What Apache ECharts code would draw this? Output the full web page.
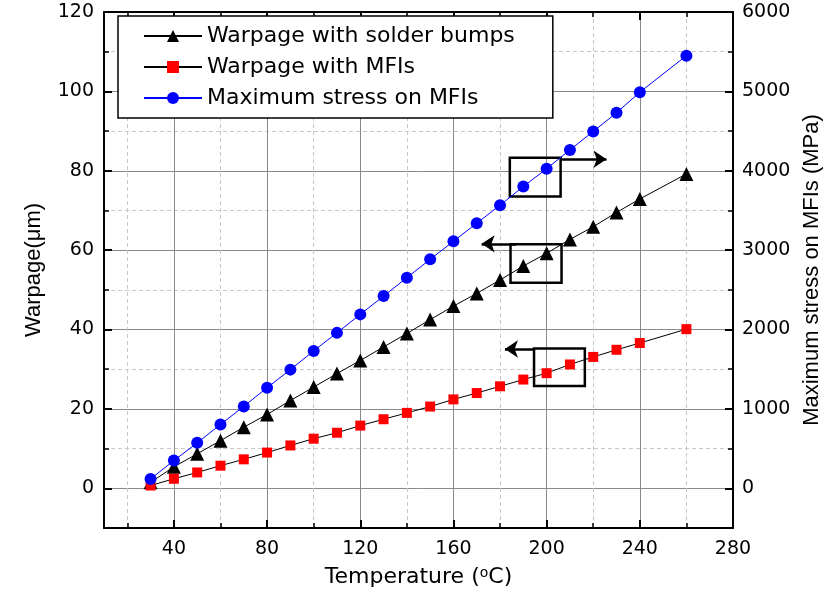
<!DOCTYPE html>
<html>
<head>
<meta charset="utf-8">
<script src="https://cdn.jsdelivr.net/npm/echarts@6/dist/echarts.min.js"></script>
<style>html,body{margin:0;padding:0;background:#fff;}#chart{width:827px;height:598px;}</style>
</head>
<body>
<div id="chart"></div>
<script>
// ---- data ----
const temps = [30,40,50,60,70,80,90,100,110,120,130,140,150,160,170,180,190,200,210,220,230,240,260];
const warpSolder = [1.5,5.4,8.7,12.0,15.4,18.6,22.1,25.5,28.9,32.2,35.6,39.0,42.5,45.9,49.1,52.5,56.0,59.2,62.7,65.9,69.5,72.9,79.2];
const warpMFI = [0.7,2.4,4.0,5.7,7.3,9.0,10.8,12.5,14.0,15.8,17.4,19.0,20.6,22.4,24.0,25.7,27.4,29.0,31.2,33.1,34.9,36.6,40.1];
const stressMFI = [118,349,573,804,1032,1267,1495,1731,1958,2191,2421,2653,2884,3112,3339,3566,3802,4026,4263,4496,4730,4990,5450];
const seriesNames = ['Warpage with solder bumps','Warpage with MFIs','Maximum stress on MFIs'];
const xMajor = [40,80,120,160,200,240,280];
const xMinor = [20,60,100,140,180,220,260];
const yMajor = [0,20,40,60,80,100,120];
const yMinor = [10,30,50,70,90,110];
const rMajor = [0,1000,2000,3000,4000,5000,6000];
const rMinor = [500,1500,2500,3500,4500,5500];
// annotation boxes and arrows (in temperature / warpage units)
const boxes = [[[184.2,83.3],[206.0,73.5]],[[184.5,61.5],[206.4,51.8]],[[194.6,35.2],[216.4,25.8]]];
const arrows = [[[206.0,82.9],[225.7,82.9]],[[186.8,61.6],[172.1,61.6]],[[194.9,35.1],[182.1,35.1]]];

const FH = 'DejaVu Sans, sans-serif';           // horizontal text
const FV = 'Liberation Sans, Arial, sans-serif'; // rotated titles
const chart = echarts.init(document.getElementById('chart'), null, {renderer:'canvas'});
const axisLine = {show:true, onZero:false, lineStyle:{color:'#000', width:2}};
const majorTick = (vals) => ({show:true, inside:true, length:8, customValues:vals, lineStyle:{color:'#000', width:2}});
const minorTick = (vals) => ({show:true, inside:true, length:5, customValues:vals, lineStyle:{color:'#000', width:1.5}});
const solidSplit = {show:true, lineStyle:{color:'#8a8a8a', width:1}};
const dashSplit = {show:true, lineStyle:{color:'#c8c8c8', width:1, type:[4,3]}};
const labelStyle = {color:'#000', fontSize:19, fontFamily:FH, formatter:(v)=>String(v)};

const option = {
  animation:false,
  backgroundColor:'#fff',
  grid:{left:104, top:12, right:94, bottom:70, outerBoundsMode:'none', containLabel:false},
  legend:{
    orient:'vertical', left:118, top:16, padding:[9,38,9,25],
    itemWidth:58, itemHeight:15, itemGap:9,
    borderColor:'#000', borderWidth:1.5, backgroundColor:'#fff',
    textStyle:{fontSize:22, color:'#000', fontFamily:FH},
    data:seriesNames
  },
  xAxis:[
    {type:'value', position:'bottom', min:10, max:280, axisLine:axisLine, axisTick:majorTick(xMajor),
     axisLabel:Object.assign({customValues:xMajor, margin:12}, labelStyle), splitLine:solidSplit,
     name:'Temperature ({sup|o}C)', nameLocation:'middle', nameGap:38, nameMoveOverlap:false,
     nameTextStyle:{fontSize:22, color:'#000', fontFamily:FH, rich:{sup:{fontSize:14, lineHeight:10, verticalAlign:'top', fontFamily:FH, color:'#000'}}}},
    {type:'value', position:'top', min:10, max:280, axisLine:axisLine, axisTick:majorTick(xMajor), axisLabel:{show:false}, splitLine:{show:false}},
    {type:'value', position:'bottom', min:10, max:280, axisLine:{show:false, onZero:false}, axisTick:minorTick(xMinor), axisLabel:{show:false}, splitLine:dashSplit},
    {type:'value', position:'top', min:10, max:280, axisLine:{show:false, onZero:false}, axisTick:minorTick(xMinor), axisLabel:{show:false}, splitLine:{show:false}}
  ],
  yAxis:[
    {type:'value', position:'left', min:-10, max:120, axisLine:axisLine, axisTick:majorTick(yMajor),
     axisLabel:Object.assign({customValues:yMajor, margin:10}, labelStyle), splitLine:solidSplit,
     name:'Warpage(\u03bcm)', nameLocation:'middle', nameRotate:90, nameGap:59, nameMoveOverlap:false,
     nameTextStyle:{fontSize:22, color:'#000', fontFamily:FV}},
    {type:'value', position:'right', min:-500, max:6000, axisLine:axisLine, axisTick:majorTick(rMajor),
     axisLabel:Object.assign({customValues:rMajor, margin:9}, labelStyle), splitLine:{show:false},
     name:'Maximum stress on MFIs (MPa)', nameLocation:'middle', nameRotate:90, nameGap:68, nameMoveOverlap:false,
     nameTextStyle:{fontSize:22, color:'#000', fontFamily:FV}},
    {type:'value', position:'left', min:-10, max:120, axisLine:{show:false, onZero:false}, axisTick:minorTick(yMinor), axisLabel:{show:false}, splitLine:dashSplit},
    {type:'value', position:'right', min:-500, max:6000, axisLine:{show:false, onZero:false}, axisTick:minorTick(rMinor), axisLabel:{show:false}, splitLine:{show:false}}
  ],
  series:[
    {name:seriesNames[0], type:'line', xAxisIndex:0, yAxisIndex:0,
     data:temps.map((t,i)=>[t, warpSolder[i]]),
     symbol:'triangle', symbolSize:14, itemStyle:{color:'#000'}, lineStyle:{color:'#000', width:1}},
    {name:seriesNames[1], type:'line', xAxisIndex:0, yAxisIndex:0,
     data:temps.map((t,i)=>[t, warpMFI[i]]),
     symbol:'rect', symbolSize:10, itemStyle:{color:'#ff0000'}, lineStyle:{color:'#000', width:1},
     markArea:{silent:true, label:{show:false},
       itemStyle:{color:'rgba(0,0,0,0)', borderColor:'#000', borderWidth:2.5},
       data:boxes.map(b=>[{coord:b[0]},{coord:b[1]}])},
     markLine:{silent:true, symbol:['none','arrow'], symbolSize:13, label:{show:false},
       lineStyle:{color:'#000', width:2.5, type:'solid'},
       data:arrows.map(a=>[{coord:a[0]},{coord:a[1]}])}},
    {name:seriesNames[2], type:'line', xAxisIndex:0, yAxisIndex:1,
     data:temps.map((t,i)=>[t, stressMFI[i]]),
     symbol:'circle', symbolSize:12, itemStyle:{color:'#0000ff'}, lineStyle:{color:'#0000ff', width:1}}
  ]
};
chart.setOption(option);
</script>
</body>
</html>
